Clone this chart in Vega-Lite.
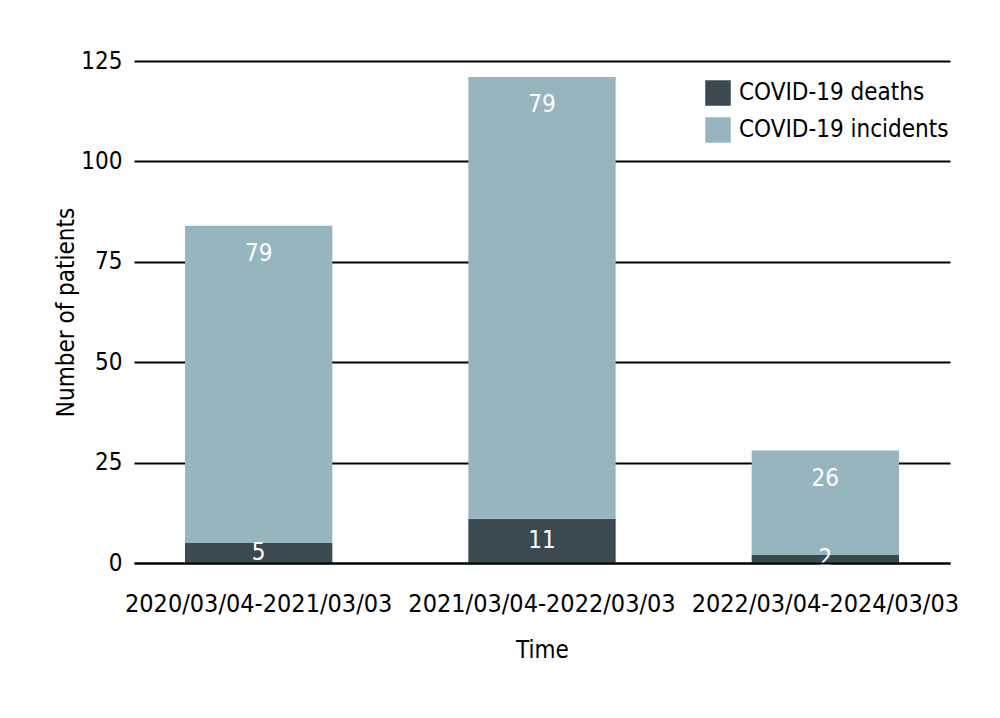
{
  "$schema": "https://vega.github.io/schema/vega-lite/v6.json",
  "width": 816,
  "height": 502,
  "autosize": {"type": "none"},
  "padding": {"left": 134, "top": 61, "right": 50, "bottom": 155},
  "background": "white",
  "config": {
    "font": "DejaVu Sans Condensed",
    "view": {"stroke": null}
  },
  "data": {
    "values": [
      {"period": "2020/03/04-2021/03/03", "type": "COVID-19 deaths", "count": 5, "label": "5"},
      {"period": "2020/03/04-2021/03/03", "type": "COVID-19 incidents", "count": 79, "label": "79"},
      {"period": "2021/03/04-2022/03/03", "type": "COVID-19 deaths", "count": 11, "label": "11"},
      {"period": "2021/03/04-2022/03/03", "type": "COVID-19 incidents", "count": 110, "label": "79"},
      {"period": "2022/03/04-2024/03/03", "type": "COVID-19 deaths", "count": 2, "label": "2"},
      {"period": "2022/03/04-2024/03/03", "type": "COVID-19 incidents", "count": 26, "label": "26"}
    ]
  },
  "transform": [
    {"stack": "count", "groupby": ["period"], "sort": [{"field": "type", "order": "ascending"}], "as": ["y0", "y1"]},
    {"calculate": "(datum.y0 + datum.y1) / 2", "as": "ymid"}
  ],
  "encoding": {
    "x": {
      "field": "period",
      "type": "nominal",
      "sort": null,
      "title": "Time",
      "scale": {"paddingInner": 0.48, "paddingOuter": 0.18},
      "axis": {
        "labelAngle": 0,
        "labelFontSize": 25,
        "labelColor": "black",
        "labelPadding": 28,
        "labelLimit": 0,
        "domain": true,
        "domainColor": "black",
        "domainWidth": 2,
        "zindex": 1,
        "ticks": false,
        "titleFontSize": 24,
        "titleFontWeight": "normal",
        "titleColor": "black",
        "titlePadding": 22
      }
    }
  },
  "layer": [
    {
      "mark": {"type": "bar"},
      "encoding": {
        "y": {
          "field": "y1",
          "type": "quantitative",
          "title": "Number of patients",
          "scale": {"domain": [0, 125], "nice": false},
          "axis": {
            "values": [0, 25, 50, 75, 100, 125],
            "grid": true,
            "gridColor": "black",
            "gridWidth": 2,
            "gridOpacity": 1,
            "domain": false,
            "ticks": false,
            "labelFontSize": 24,
            "labelColor": "black",
            "labelPadding": 12,
            "titleFontSize": 24,
            "titleFontWeight": "normal",
            "titleColor": "black",
            "titlePadding": 2
          }
        },
        "y2": {"field": "y0"},
        "color": {
          "field": "type",
          "type": "nominal",
          "title": null,
          "scale": {
            "domain": ["COVID-19 deaths", "COVID-19 incidents"],
            "range": ["#3b4951", "#97b5bf"]
          },
          "legend": {
            "orient": "none",
            "legendX": 571,
            "legendY": 19,
            "symbolType": "square",
            "symbolSize": 650,
            "symbolStrokeWidth": 0,
            "symbolOpacity": 1,
            "labelFontSize": 24,
            "labelColor": "black",
            "labelOffset": 8,
            "labelLimit": 0,
            "rowPadding": 11
          }
        }
      }
    },
    {
      "transform": [{"filter": "datum.type === 'COVID-19 incidents'"}],
      "mark": {"type": "text", "color": "white", "fontSize": 24, "baseline": "top", "dy": 16},
      "encoding": {
        "y": {"field": "y1", "type": "quantitative"},
        "text": {"field": "label"}
      }
    },
    {
      "transform": [{"filter": "datum.type === 'COVID-19 deaths'"}],
      "mark": {"type": "text", "color": "white", "fontSize": 24, "baseline": "middle"},
      "encoding": {
        "y": {"field": "ymid", "type": "quantitative"},
        "text": {"field": "label"}
      }
    }
  ]
}
